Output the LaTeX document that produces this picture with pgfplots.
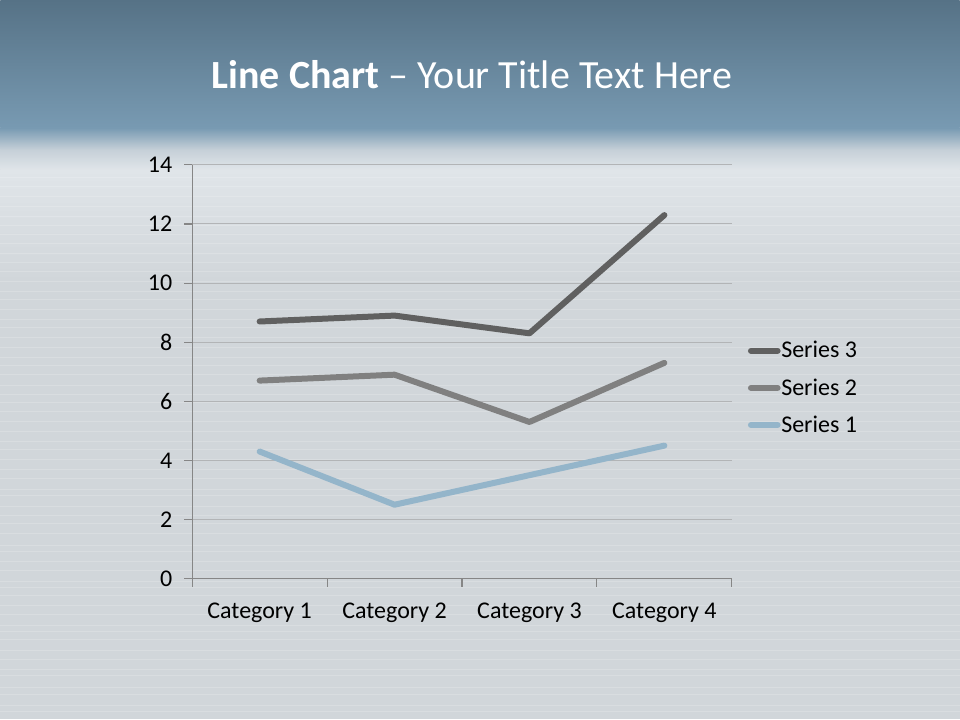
\documentclass[border=0pt]{standalone}
\usepackage{fontspec}
\setmainfont{Carlito}
\usepackage{pgfplots}
\pgfplotsset{compat=1.18}
\usetikzlibrary{shadings}

\definecolor{bandtop}{RGB}{86,114,134}
\definecolor{bandbot}{RGB}{120,154,178}
\definecolor{bandfade}{RGB}{198,208,216}
\definecolor{silver}{RGB}{209,214,218}
\definecolor{silverlight}{RGB}{224,229,233}
\definecolor{sthree}{RGB}{96,96,96}
\definecolor{stwo}{RGB}{128,128,128}
\definecolor{sone}{RGB}{148,181,202}
\definecolor{gridgray}{RGB}{178,180,182}
\definecolor{axisgray}{RGB}{134,134,134}

\begin{document}
\begin{tikzpicture}
% slide background (960x720 px -> 720x540 pt)
\fill[silver] (0,0) rectangle (720pt,540pt);
\shade[top color=silverlight, bottom color=silver] (0,330pt) rectangle (720pt,412.5pt);
\shade[top color=bandfade, bottom color=silverlight] (0,412.5pt) rectangle (720pt,427.5pt);
\shade[top color=bandbot, bottom color=bandfade] (0,427.5pt) rectangle (720pt,444pt);
\shade[top color=bandtop, bottom color=bandbot] (0,444pt) rectangle (720pt,540pt);
% brushed metal streaks
\foreach \yy in {6,11,19,24,33,38,45,52,60,66,71,79,86,93,99,104,112,119,126,131,140,147,153,160,168,173,181,188,195,203,209,216,224,231,238,244,251,259,266,272,279,287,294,300,308,315,321,329,336,343,350,357,364,371,378,385,393,400,407}
  \draw[white, opacity=0.18, line width=0.5pt] (0,\yy pt) -- (720pt,\yy pt);

\node[text=white, font=\fontsize{30}{36}\selectfont] at (354pt,484pt)
  {\textbf{Line Chart} – Your Title Text Here};

\begin{axis}[
  at={(144pt,105.75pt)}, anchor=south west,
  scale only axis, width=405pt, height=310.5pt,
  xmin=-0.5, xmax=3.5, ymin=0, ymax=14,
  axis lines=left, axis line style={-, axisgray, line width=0.8pt},
  xtick={0,1,2,3},
  xticklabels={Category 1,Category 2,Category 3,Category 4},
  minor xtick={-0.5,0.5,1.5,2.5,3.5},
  ytick={0,2,...,14},
  major x tick style={draw=none},
  minor x tick style={axisgray, line width=0.8pt},
  y tick style={axisgray, line width=0.8pt},
  tick align=outside,
  major tick length=6pt, minor tick length=6pt,
  ymajorgrids, grid style={gridgray, line width=0.75pt},
  tick label style={font=\fontsize{18}{21}\selectfont, text=black},
  /pgf/number format/assume math mode=true,
  xticklabel style={yshift=-8.5pt},
  yticklabel style={xshift=-5.5pt},
  clip=false,
  reverse legend,
  legend style={at={(1.022,0.461)}, anchor=west, draw=none, fill=none,
    font=\fontsize{18}{21}\selectfont, row sep=10pt,
    nodes={inner xsep=0.5pt}},
  legend image code/.code={\draw[#1, line width=4.5pt, line cap=round] (0pt,0pt) -- (20pt,0pt);},
  every axis plot/.append style={line width=4.5pt, line cap=round, line join=round},
]
\addplot[sone] coordinates {(0,4.3) (1,2.5) (2,3.5) (3,4.5)};
\addlegendentry{Series 1}
\addplot[stwo] coordinates {(0,6.7) (1,6.9) (2,5.3) (3,7.3)};
\addlegendentry{Series 2}
\addplot[sthree] coordinates {(0,8.7) (1,8.9) (2,8.3) (3,12.3)};
\addlegendentry{Series 3}
\end{axis}
\end{tikzpicture}
\end{document}
